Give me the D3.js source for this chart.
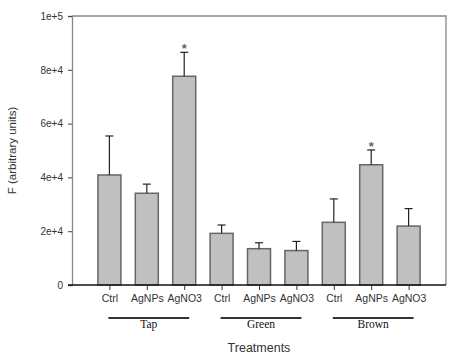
<!DOCTYPE html>
<html>
<head>
<meta charset="utf-8">
<script src="https://cdn.jsdelivr.net/npm/d3@7"></script>
<style>
  body { margin: 0; background: #fff; }
  svg { display: block; }
</style>
</head>
<body>
<svg id="chart" width="468" height="363"></svg>
<script>
// data
const groups = ['Tap', 'Green', 'Brown'];
const treatments = ['Ctrl', 'AgNPs', 'AgNO3'];
const means = [40900, 34100, 77600, 19200, 13500, 12800, 23300, 44700, 21900];
const errors = [14500, 3400, 8900, 3100, 2200, 3400, 8700, 5500, 6500];
const signif = [false, false, true, false, false, false, false, true, false];
const yTicks = [0, 20000, 40000, 60000, 80000, 100000];
const yTickLabels = ['0', '2e+4', '4e+4', '6e+4', '8e+4', '1e+5'];

const width = 468, height = 363;
const margin = { top: 16, right: 22, bottom: 78, left: 72 };
const plotBottom = height - margin.bottom;
const plotRight = width - margin.right;

const svg = d3.select('#chart');

const keys = d3.range(means.length);
const xScale = d3.scalePoint()
    .domain(keys)
    .range([margin.left, plotRight])
    .padding(1);

const yScale = d3.scaleLinear()
    .domain([0, 100000])
    .range([plotBottom, margin.top]);

const barWidth = 23;

// frame (top and right)
svg.append('path')
    .attr('d', `M${margin.left},${margin.top}H${plotRight}V${plotBottom}`)
    .attr('fill', 'none')
    .attr('stroke', '#888')
    .attr('stroke-width', 1.3);

// bars
svg.selectAll('.bar')
    .data(means)
    .enter()
    .append('rect')
    .attr('class', 'bar')
    .attr('x', (_d, i) => xScale(i) - barWidth / 2)
    .attr('y', d => yScale(d))
    .attr('width', barWidth)
    .attr('height', d => yScale(0) - yScale(d))
    .attr('fill', '#c0c0c0')
    .attr('stroke', '#666')
    .attr('stroke-width', 1.5);

// error bars (upper only)
const err = svg.append('g').attr('class', 'errors')
    .attr('stroke', '#222')
    .attr('stroke-width', 1.2);

means.forEach((m, i) => {
    const cx = xScale(i);
    err.append('line')
        .attr('x1', cx).attr('x2', cx)
        .attr('y1', yScale(m)).attr('y2', yScale(m + errors[i]));
    err.append('line')
        .attr('x1', cx - 4).attr('x2', cx + 4)
        .attr('y1', yScale(m + errors[i])).attr('y2', yScale(m + errors[i]));
});

// significance stars
svg.selectAll('.star')
    .data(keys.filter(i => signif[i]))
    .enter()
    .append('text')
    .attr('class', 'star')
    .attr('x', i => xScale(i))
    .attr('y', i => yScale(means[i] + errors[i]) + 1)
    .attr('text-anchor', 'middle')
    .attr('font-family', 'Arial, Liberation Sans, sans-serif')
    .attr('font-size', '13px')
    .attr('font-weight', 'bold')
    .attr('fill', '#666')
    .text('*');

// y axis
const yAxis = d3.axisLeft(yScale)
    .tickValues(yTicks)
    .tickFormat((_d, i) => yTickLabels[i])
    .tickSize(4)
    .tickPadding(5);

const yG = svg.append('g')
    .attr('class', 'y-axis')
    .attr('transform', `translate(${margin.left},0)`)
    .call(yAxis);
yG.select('.domain').attr('stroke', '#888').attr('stroke-width', 1.3);
yG.selectAll('.tick line').attr('stroke', '#444');
yG.selectAll('.tick text')
    .attr('fill', '#333')
    .attr('font-family', 'Arial, Liberation Sans, sans-serif')
    .attr('font-size', '10px');

// x axis
const xAxis = d3.axisBottom(xScale)
    .tickFormat(i => treatments[i % treatments.length])
    .tickSize(5)
    .tickSizeOuter(0)
    .tickPadding(5);

const xG = svg.append('g')
    .attr('class', 'x-axis')
    .attr('transform', `translate(0,${plotBottom})`)
    .call(xAxis);
xG.select('.domain')
    .attr('d', `M${margin.left - 4},0H${plotRight}`)
    .attr('stroke', '#111')
    .attr('stroke-width', 1.4);
xG.selectAll('.tick line').attr('stroke', '#333');
xG.selectAll('.tick text')
    .attr('fill', '#333')
    .attr('font-family', 'Arial, Liberation Sans, sans-serif')
    .attr('font-size', '10.5px');

// group underlines and labels
groups.forEach((g, gi) => {
    const first = xScale(gi * 3), last = xScale(gi * 3 + 2);
    const x1 = first - 1, x2 = last + 5;
    svg.append('line')
        .attr('x1', x1).attr('x2', x2)
        .attr('y1', plotBottom + 33).attr('y2', plotBottom + 33)
        .attr('stroke', '#333')
        .attr('stroke-width', 2);
    svg.append('text')
        .attr('x', (x1 + x2) / 2)
        .attr('y', plotBottom + 43)
        .attr('text-anchor', 'middle')
        .attr('font-family', 'Liberation Serif, Times New Roman, serif')
        .attr('font-size', '11.5px')
        .attr('fill', '#111')
        .text(g);
});

// labels
svg.append('text')
    .attr('x', (margin.left + plotRight) / 2)
    .attr('y', plotBottom + 67)
    .attr('text-anchor', 'middle')
    .attr('font-family', 'Arial, Liberation Sans, sans-serif')
    .attr('font-size', '12.5px')
    .attr('fill', '#333')
    .text('Treatments');

svg.append('text')
    .attr('transform', `translate(16,${(margin.top + plotBottom) / 2}) rotate(-90)`)
    .attr('text-anchor', 'middle')
    .attr('font-family', 'Arial, Liberation Sans, sans-serif')
    .attr('font-size', '11.5px')
    .attr('fill', '#333')
    .text('F (arbitrary units)');
</script>
</body>
</html>
